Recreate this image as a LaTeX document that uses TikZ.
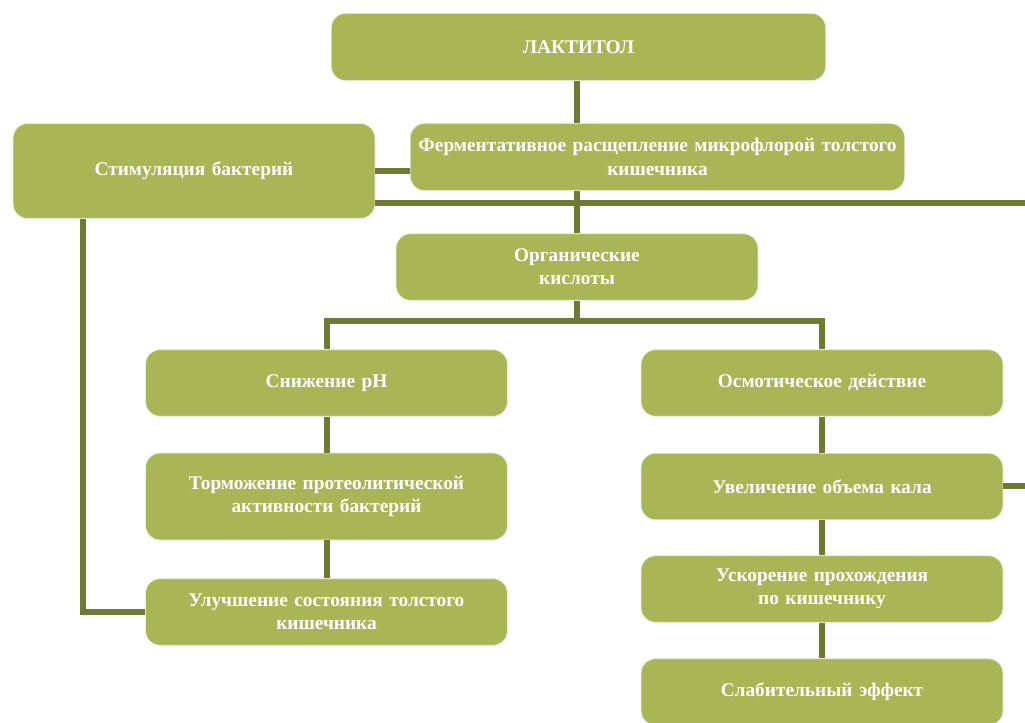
\documentclass[tikz,border=0pt]{standalone}
\usepackage{fontspec}
\setmainfont{Liberation Serif}
\definecolor{boxgreen}{RGB}{168,182,85}
\definecolor{lineolive}{RGB}{111,122,53}

\begin{document}
\begin{tikzpicture}[x=0.75pt,y=-0.75pt,
      box/.style={rectangle,rounded corners=11pt,fill=boxgreen,draw=white!80!boxgreen,
        line width=0.6pt,text=white,align=center,inner sep=0pt,
        font=\bfseries\fontsize{14.5}{17.5}\selectfont},
      wide box/.style={box,minimum width=371pt,text width=371pt,minimum height=50.5pt},
      mid box/.style={box,minimum width=271.5pt,text width=271pt,minimum height=50pt},
      link/.style={draw=lineolive,line width=4.5pt}]
    \useasboundingbox (0,0) rectangle (1025,723);
    % boxes
    \node[wide box] (lakt) at (578.5,47) {ЛАКТИТОЛ};
    \node[mid box,minimum height=71.25pt] (stim) at (194,171) {Стимуляция бактерий};
    \node[wide box] (ferm) at (657.5,157) {Ферментативное расщепление микрофлорой толстого\\кишечника};
    \node[mid box] (org) at (577,267) {Органические\\кислоты};
    \node[mid box] (snizh) at (326.5,383) {Снижение pH};
    \node[mid box] (osm) at (822,383) {Осмотическое действие};
    \node[mid box,minimum height=65.25pt] (torm) at (326.5,496.5) {Торможение протеолитической\\активности бактерий};
    \node[mid box] (uvel) at (822,486.5) {Увеличение объема кала};
    \node[mid box] (ulu) at (326.5,612) {Улучшение состояния толстого\\кишечника};
    \node[mid box] (usk) at (822,589) {Ускорение прохождения\\по кишечнику};
    \node[mid box] (slab) at (822,692) {Слабительный эффект};
    \coordinate (rightA) at (1025,203);
    \coordinate (rightB) at (1025,487);
    \coordinate (split) at (577,321);
    % connectors
    \draw[link] (lakt.south -| org.north) -- (org.north |- ferm.north);
    \draw[link] (org.north |- ferm.south) -- (org.north);
    \draw[link] (stim.east) -- (stim.east -| ferm.west);
    \draw[link] (stim.east |- rightA) -- (rightA);
    \draw[link] (stim.south west) ++(70,0) |- (ulu.west);
    \draw[link] (org.south) -- (split);
    \draw[link] (snizh.north) |- (split) -| (osm.north);
    \draw[link] (snizh) -- (torm);
    \draw[link] (torm) -- (ulu);
    \draw[link] (osm) -- (uvel);
    \draw[link] (uvel) -- (usk);
    \draw[link] (usk) -- (slab);
    \draw[link] (uvel.east) -- (uvel.east -| rightB);
\end{tikzpicture}
\end{document}
